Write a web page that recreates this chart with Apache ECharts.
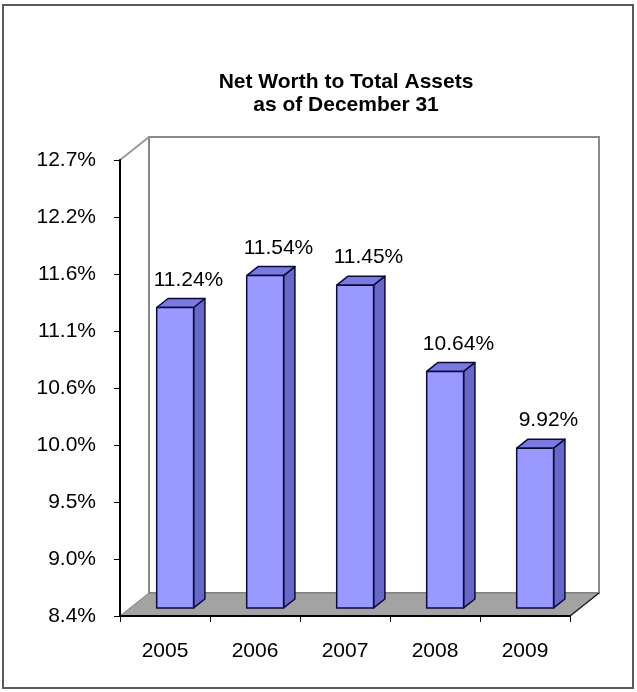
<!DOCTYPE html>
<html>
<head>
<meta charset="utf-8">
<title>Net Worth to Total Assets</title>
<script src="https://cdn.jsdelivr.net/npm/echarts@6/dist/echarts.min.js"></script>
<style>
  html, body { margin: 0; padding: 0; background: #ffffff; }
  #chart { width: 637px; height: 692px; }
</style>
</head>
<body>
<div id="chart"></div>
<script>
// Net worth as a percentage of total assets, year-end figures
const years = ['2005', '2006', '2007', '2008', '2009'];
const ratios = [11.24, 11.54, 11.45, 10.64, 9.92];

// Value axis range and the labels printed at its nine ticks
const axisMin = 8.42;
const axisMax = 12.70;
const tickLabels = ['8.4%', '9.0%', '9.5%', '10.0%', '10.6%', '11.1%', '11.6%', '12.2%', '12.7%'];
const tickValues = tickLabels.map((_, i) => axisMin + i * (axisMax - axisMin) / (tickLabels.length - 1));

const titleLines = ['Net Worth to Total Assets', 'as of December 31'];

// Pseudo-3D geometry (pixels of depth and relative bar placement)
const DEPTH_X = 29, DEPTH_Y = 23;
const BAR_Z0 = 0.35, BAR_Z1 = 0.74;
const BAR_FRACTION = 0.41;
const FONT = '"Liberation Sans", Arial, sans-serif';

function labelFor(value) {
  let best = 0, dist = Infinity;
  tickValues.forEach((t, i) => {
    const d = Math.abs(t - value);
    if (d < dist) { dist = d; best = i; }
  });
  return tickLabels[best];
}

// Back wall, floor and side wall edge drawn behind the bars
function renderFrame(params, api) {
  const cs = params.coordSys;
  const x0 = cs.x, x1 = cs.x + cs.width;
  const y0 = cs.y, y1 = cs.y + cs.height;
  const dx = DEPTH_X, dy = DEPTH_Y;
  return {
    type: 'group',
    children: [
      {
        type: 'rect',
        shape: { x: x0 + dx, y: y0 - dy, width: cs.width, height: cs.height },
        style: { fill: '#ffffff', stroke: '#8a8a8a', lineWidth: 2 }
      },
      {
        type: 'line',
        shape: { x1: x0, y1: y0, x2: x0 + dx, y2: y0 - dy },
        style: { stroke: '#9a9a9a', lineWidth: 2 }
      },
      {
        type: 'polygon',
        shape: { points: [[x0, y1], [x1, y1], [x1 + dx, y1 - dy], [x0 + dx, y1 - dy]] },
        style: { fill: '#a3a3a3', stroke: '#7a7a7a', lineWidth: 1 }
      },
      {
        type: 'line',
        shape: { x1: x1, y1: y1, x2: x1 + dx, y2: y1 - dy },
        style: { stroke: '#222222', lineWidth: 1.5 }
      }
    ]
  };
}

// Each bar: front face, right side face and top face, plus its value label
function renderBar(params, api) {
  const idx = api.value(0);
  const val = api.value(1);
  const top = api.coord([idx, val]);
  const base = api.coord([idx, axisMin]);
  const band = api.size([1, 0])[0];
  const w = band * BAR_FRACTION;
  const ox = BAR_Z0 * DEPTH_X, oy = BAR_Z0 * DEPTH_Y;
  const sx = (BAR_Z1 - BAR_Z0) * DEPTH_X, sy = (BAR_Z1 - BAR_Z0) * DEPTH_Y;
  const xl = top[0] - w / 2 + ox;
  const xr = top[0] + w / 2 + ox;
  const yt = top[1] - oy;
  const yb = base[1] - oy;
  const edge = { stroke: '#0a0a3a', lineWidth: 1.5, lineJoin: 'round' };
  return {
    type: 'group',
    children: [
      {
        type: 'polygon',
        shape: { points: [[xr, yt], [xr + sx, yt - sy], [xr + sx, yb - sy], [xr, yb]] },
        style: Object.assign({ fill: '#6868c8' }, edge)
      },
      {
        type: 'polygon',
        shape: { points: [[xl, yt], [xl + sx, yt - sy], [xr + sx, yt - sy], [xr, yt]] },
        style: Object.assign({ fill: '#7a7ae0' }, edge)
      },
      {
        type: 'rect',
        shape: { x: xl, y: yt, width: xr - xl, height: yb - yt },
        style: Object.assign({ fill: '#9999ff' }, edge)
      },
      {
        type: 'text',
        style: {
          x: (xl + xr) / 2 + sx + 2,
          y: yt - sy - 8,
          text: val.toFixed(2) + '%',
          fill: '#000000',
          font: '21px ' + FONT,
          align: 'center',
          verticalAlign: 'bottom'
        }
      }
    ]
  };
}

const chart = echarts.init(document.getElementById('chart'), null, { renderer: 'canvas' });

chart.setOption({
  backgroundColor: '#ffffff',
  animation: false,
  graphic: [
    {
      type: 'rect',
      shape: { x: 3, y: 5, width: 630, height: 683 },
      style: { fill: 'none', stroke: '#5a5a5a', lineWidth: 2 },
      z: 100
    },
    {
      type: 'text',
      x: 346,
      y: 71,
      style: {
        text: titleLines.join('\n'),
        font: 'bold 21px ' + FONT,
        lineHeight: 23,
        fill: '#000000',
        align: 'center',
        verticalAlign: 'top'
      },
      z: 100
    }
  ],
  grid: { left: 120, top: 160, width: 450, height: 456 },
  xAxis: {
    type: 'category',
    data: years,
    boundaryGap: true,
    z: 5,
    axisLine: { lineStyle: { color: '#000000', width: 2 } },
    axisTick: { show: true, length: 6, lineStyle: { color: '#000000', width: 1 } },
    axisLabel: { margin: 25, color: '#000000', fontFamily: FONT, fontSize: 21 },
    splitLine: { show: false }
  },
  yAxis: {
    type: 'value',
    min: axisMin,
    max: axisMax,
    z: 5,
    axisLine: { show: true, lineStyle: { color: '#000000', width: 2 } },
    axisTick: { show: true, length: 6, customValues: tickValues, lineStyle: { color: '#000000', width: 1 } },
    axisLabel: {
      customValues: tickValues,
      margin: 24,
      color: '#000000',
      fontFamily: FONT,
      fontSize: 21,
      formatter: (v) => labelFor(v)
    },
    splitLine: { show: false }
  },
  series: [
    {
      type: 'custom',
      name: 'frame',
      z: 1,
      silent: true,
      renderItem: renderFrame,
      data: [[0, axisMin]]
    },
    {
      type: 'custom',
      name: 'ratio',
      z: 2,
      renderItem: renderBar,
      encode: { x: 0, y: 1 },
      data: years.map((y, i) => [i, ratios[i]])
    }
  ]
});
</script>
</body>
</html>
